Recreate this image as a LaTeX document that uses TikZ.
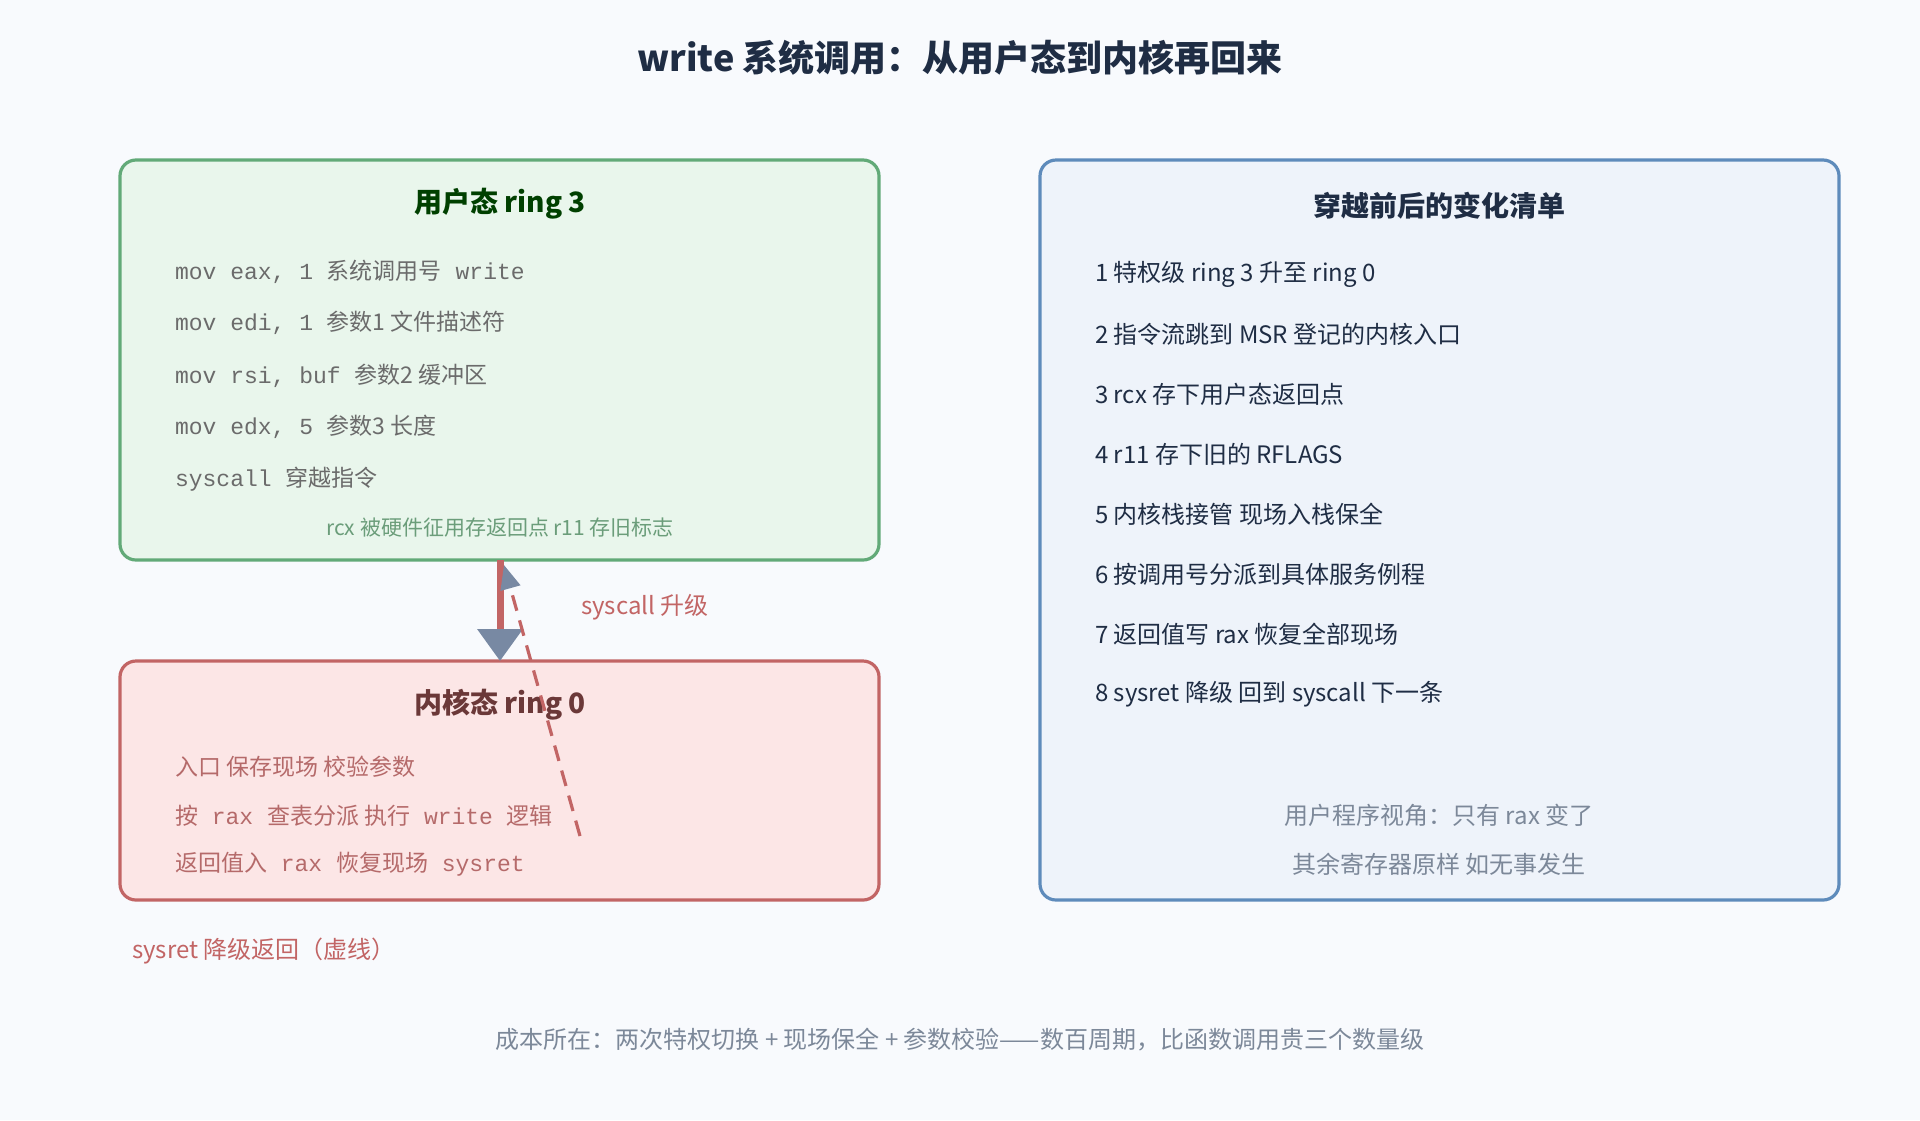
\documentclass[tikz,border=0pt]{standalone}
\usepackage{fontspec}
\setmainfont{Noto Sans CJK SC}
\newfontfamily\cjk{Noto Sans CJK SC}
\newfontfamily\mono{Liberation Mono}
\usetikzlibrary{arrows.meta}
\definecolor{bg}{HTML}{F8FAFD}
\definecolor{gfill}{HTML}{E9F6EC}
\definecolor{gline}{HTML}{62AA78}
\definecolor{rfill}{HTML}{FCE6E6}
\definecolor{rline}{HTML}{C26565}
\definecolor{bfill}{HTML}{EEF3FA}
\definecolor{bline}{HTML}{5E8BBB}
\definecolor{ink}{HTML}{1F2D44}
\definecolor{codec}{HTML}{6B6B6B}
\definecolor{arrowc}{HTML}{7889A3}
\definecolor{muted}{HTML}{7C8899}
\tikzset{
 box/.style={rounded corners=8pt, line width=1.6pt},
 code/.style={anchor=west, font=\mono\fontsize{11.5}{13}\selectfont},
 item/.style={anchor=west, font=\fontsize{12}{14}\selectfont, text=ink},
 btitle/.style={font=\bfseries\fontsize{14}{16}\selectfont},
}
\newcommand{\zh}[1]{{\cjk #1}}
\begin{document}
\begin{tikzpicture}[x=0.5pt,y=-0.5pt]
\path[fill=bg] (0,0) rectangle (1920,1120);
\useasboundingbox (0,0) rectangle (1920,1120);
\node[font=\bfseries\fontsize{18}{20}\selectfont, text=ink] (title) at (960,58) {write 系统调用：从用户态到内核再回来};
% user box
\draw[box, fill=gfill, draw=gline] (120,160) rectangle (879,560);
\coordinate (ub) at (500,560);
\node[btitle, text=green!25!black] (ut) at (500,204) {用户态 ring 3};
\begin{scope}[text=codec]
\node[code] (c1) at (168,272) {mov eax, 1 \zh{系统调用号} write};
\node[code] (c2) at (168,323) {mov edi, 1 \zh{参数1 文件描述符}};
\node[code] (c3) at (168,376) {mov rsi, buf \zh{参数2 缓冲区}};
\node[code] (c4) at (168,427) {mov edx, 5 \zh{参数3 长度}};
\node[code] (c5) at (168,479) {syscall \zh{穿越指令}};
\end{scope}
\node[font=\fontsize{10.5}{12}\selectfont, text=gline!70!gray] (note) at (500,528) {rcx 被硬件征用存返回点 r11 存旧标志};
% kernel box
\draw[box, fill=rfill, draw=rline] (120,661) rectangle (879,900);
\coordinate (kt) at (500,661);
\node[btitle, text=rline!55!black] (kt2) at (500,705) {内核态 ring 0};
\begin{scope}[text=rline!80!gray]
\node[code] (k1) at (168,767) {\zh{入口 保存现场 校验参数}};
\node[code] (k2) at (168,816) {\zh{按} rax \zh{查表分派 执行} write \zh{逻辑}};
\node[code] (k3) at (168,864) {\zh{返回值入} rax \zh{恢复现场} sysret};
\end{scope}
% arrows
\draw[rline, line width=3.5pt, -{Triangle[width=22pt,length=16pt,fill=arrowc,color=arrowc]}] (ub) -- (kt);
\coordinate (ds) at (580,836);
\coordinate (de) at (504,565);
\draw[rline, line width=1.6pt, dash pattern=on 8pt off 5pt, -{Triangle[width=10pt,length=12pt,fill=arrowc,color=arrowc]}] (ds) -- (de);
\node[anchor=west, text=rline, font=\fontsize{12}{14}\selectfont] (sl) at (574,607) {syscall 升级};
\node[anchor=west, text=rline, font=\fontsize{12}{14}\selectfont] (rl) at (125,951) {sysret 降级返回（虚线）};
% right box
\draw[box, fill=bfill, draw=bline] (1040,160) rectangle (1839,900);
\node[btitle, text=ink] (rt) at (1439,206) {穿越前后的变化清单};
\node[item] (i1) at (1088,274) {1 特权级 ring 3 升至 ring 0};
\node[item] (i2) at (1088,334) {2 指令流跳到 MSR 登记的内核入口};
\node[item] (i3) at (1088,394) {3 rcx 存下用户态返回点};
\node[item] (i4) at (1088,454) {4 r11 存下旧的 RFLAGS};
\node[item] (i5) at (1088,514) {5 内核栈接管 现场入栈保全};
\node[item] (i6) at (1088,574) {6 按调用号分派到具体服务例程};
\node[item] (i7) at (1088,634) {7 返回值写 rax 恢复全部现场};
\node[item] (i8) at (1088,694) {8 sysret 降级 回到 syscall 下一条};
\node[text=muted, font=\fontsize{12}{14}\selectfont] (f1) at (1439,815) {用户程序视角：只有 rax 变了};
\node[text=muted, font=\fontsize{12}{14}\selectfont] (f2) at (1439,864) {其余寄存器原样 如无事发生};
\node[text=muted, font=\fontsize{12}{14}\selectfont] (cap) at (960,1040) {成本所在：两次特权切换 + 现场保全 + 参数校验——数百周期，比函数调用贵三个数量级};
\end{tikzpicture}
\end{document}
